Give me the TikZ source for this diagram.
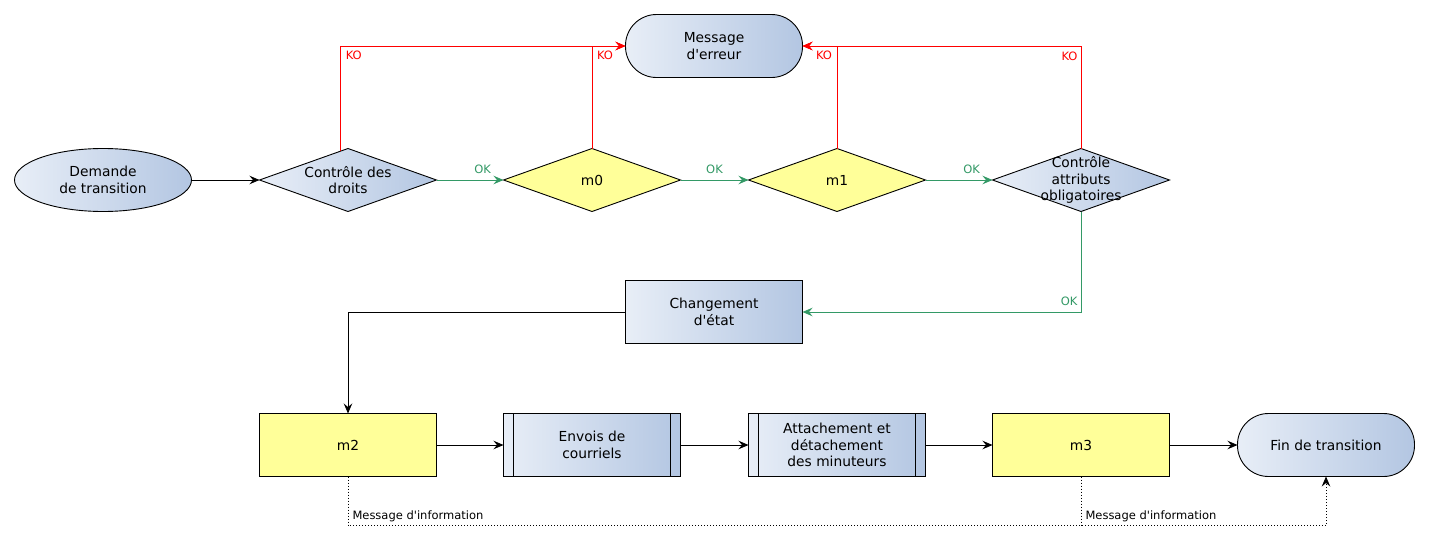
\documentclass[tikz,border=0pt]{standalone}
\usepackage{fontspec}
\setmainfont{DejaVu Sans}
\usetikzlibrary{shapes.geometric,arrows.meta}
\definecolor{okgreen}{HTML}{339966}
\definecolor{kored}{HTML}{FF0000}
\definecolor{gradL}{HTML}{E8EEF7}
\definecolor{gradR}{HTML}{B3C6E2}
\definecolor{yel}{HTML}{FFFF99}
\newcommand{\ap}{\textquotesingle}
\begin{document}
\begin{tikzpicture}[x=1pt,y=-1pt,
  font=\fontsize{13.8}{16.6}\selectfont,
  every node/.style={inner sep=0pt, outer sep=0pt, align=center},
  base/.style={draw=black, line width=0.9pt},
  gradfill/.style={base, left color=gradL, right color=gradR},
  yelfill/.style={base, fill=yel},
  boxsize/.style={minimum width=177pt, minimum height=63pt},
  tip/.style={-{Stealth[length=10pt,width=8.5pt,inset=3.5pt]}},
  arr/.style={draw=black, line width=0.9pt, tip},
  okline/.style={draw=okgreen, line width=0.9pt, tip},
  koline/.style={draw=kored, line width=0.9pt, tip},
  dotline/.style={draw=black, line width=0.9pt, dash pattern=on 1pt off 2pt},
  lbl/.style={font=\fontsize{11.5}{13.5}\selectfont, inner sep=1pt},
  oklbl/.style={lbl, text=okgreen},
  kolbl/.style={lbl, text=kored},
]
\fill[white] (0,0) rectangle (1430,541);
\useasboundingbox (0,0) rectangle (1430,541);

% top row
\node[gradfill, ellipse, boxsize] (dem) at (103,180) {Demande\\de transition};
\node[gradfill, diamond, boxsize] (cd) at (348,180) {};
\node at (cd.center) {Contrôle des\\droits};
\node[yelfill, diamond, boxsize] (m0) at (592,180) {};
\node at (m0.center) {m0};
\node[yelfill, diamond, boxsize] (m1) at (837,180) {};
\node at (m1.center) {m1};
\node[gradfill, diamond, boxsize] (att) at (1081,180) {};
\node at (att.center) {Contrôle\\attributs\\obligatoires};

\node[gradfill, rectangle, rounded corners=31pt, boxsize] (err) at (714,46) {Message\\d\ap erreur};

\node[gradfill, rectangle, boxsize] (chg) at (714,312) {Changement\\d\ap état};

% bottom row
\node[yelfill, rectangle, boxsize] (m2) at (348,445) {m2};
\node[gradfill, rectangle, boxsize] (env) at (592,445) {Envois de\\courriels};
\draw[base] ([xshift=10pt]env.north west) -- ([xshift=10pt]env.south west);
\draw[base] ([xshift=-10pt]env.north east) -- ([xshift=-10pt]env.south east);
\node[gradfill, rectangle, boxsize] (atm) at (837,445) {Attachement et\\détachement\\des minuteurs};
\draw[base] ([xshift=10pt]atm.north west) -- ([xshift=10pt]atm.south west);
\draw[base] ([xshift=-10pt]atm.north east) -- ([xshift=-10pt]atm.south east);
\node[yelfill, rectangle, boxsize] (m3) at (1081,445) {m3};
\node[gradfill, rectangle, rounded corners=31pt, boxsize] (fin) at (1326,445) {Fin de transition};

% connectors top row
\draw[arr] (dem.east) -- (cd.west);
\draw[okline] (cd.east) -- node[pos=0.69, above=5pt, oklbl] {OK} (m0.west);
\draw[okline] (m0.east) -- node[pos=0.5, above=5pt, oklbl] {OK} (m1.west);
\draw[okline] (m1.east) -- node[pos=0.69, above=5pt, oklbl] {OK} (att.west);

% KO connectors
\draw[koline] (cd.105) |- node[pos=0.5, anchor=west, xshift=4.5pt, yshift=-9.5pt, kolbl] {KO} (err.west);
\draw[koline] (m0.north) |- node[pos=0.5, anchor=west, xshift=4pt, yshift=-9.5pt, kolbl] {KO} (err.west);
\draw[koline] (m1.north) |- node[pos=0.5, anchor=east, xshift=-4pt, yshift=-9.5pt, kolbl] {KO} (err.east);
\draw[koline] (att.north) |- node[pos=0.5, anchor=east, xshift=-2.5pt, yshift=-10.5pt, kolbl] {KO} (err.east);

% OK down to state change
\draw[okline] (att.south) |- node[pos=0.5, anchor=east, xshift=-2.5pt, yshift=10.5pt, oklbl] {OK} (chg.east);
\draw[arr] (chg.west) -| (m2.north);

% bottom row connectors
\draw[arr] (m2.east) -- (env.west);
\draw[arr] (env.east) -- (atm.west);
\draw[arr] (atm.east) -- (m3.west);
\draw[arr] (m3.east) -- (fin.west);

% dotted information messages
\draw[dotline, tip] (m2.south) -- ++(0,49) node[pos=1, anchor=west, xshift=3.5pt, yshift=9.5pt, lbl] {Message d\ap information} -| (fin.south);
\draw[dotline] (m3.south) -- ++(0,49) node[pos=1, anchor=west, xshift=3.5pt, yshift=9.5pt, lbl] {Message d\ap information};
\end{tikzpicture}
\end{document}
